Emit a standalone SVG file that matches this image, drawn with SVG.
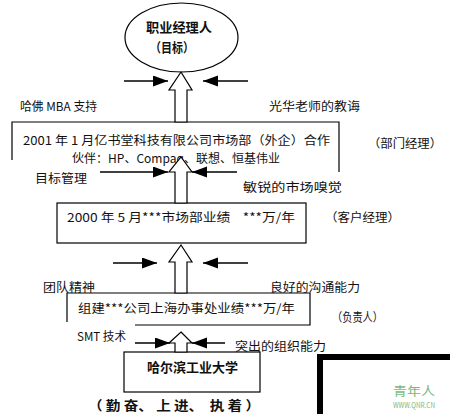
<svg xmlns="http://www.w3.org/2000/svg" width="450" height="414" viewBox="0 0 450 414">
<style>
text{font-family:"Noto Sans CJK SC","Liberation Sans",sans-serif;font-size:12px;fill:#111;white-space:pre}
.b{font-weight:bold;font-size:13px}
.box{fill:none;stroke:#000;stroke-width:1.2}
.hollow{fill:#fff;stroke:#000;stroke-width:1.2}
.push{stroke:#000;stroke-width:1.6;fill:none;marker-end:url(#ah)}
.wm{fill:#7cb87c}
</style>
<defs>
<marker id="ah" markerUnits="userSpaceOnUse" markerWidth="16" markerHeight="12" refX="15" refY="5.5" orient="auto">
<path d="M0,0 L15,5.5 L0,11 Z" fill="#000"/>
</marker>
</defs>

<g id="goal">
<ellipse cx="181.5" cy="37.5" rx="56.5" ry="34.5" fill="#fff" stroke="#000" stroke-width="1.2"/>
<text class="b" x="146" y="32" textLength="66" lengthAdjust="spacingAndGlyphs">职业经理人</text>
<text class="b" x="150" y="52" textLength="44" lengthAdjust="spacingAndGlyphs">（目标）</text>
</g>

<g id="box2001">
<path class="box" d="M12,160 V122 H339 V172"/>
<text x="23" y="145" textLength="307" lengthAdjust="spacingAndGlyphs">2001 年 1 月亿书堂科技有限公司市场部（外企）合作</text>
<text x="72" y="163" textLength="208" lengthAdjust="spacingAndGlyphs">伙伴：HP、Compaq、联想、恒基伟业</text>
</g>

<g id="box2000">
<rect class="box" x="57" y="203" width="249" height="40"/>
<text x="67" y="222" textLength="228" lengthAdjust="spacingAndGlyphs">2000 年 5 月***市场部业绩    ***万/年</text>
</g>

<g id="boxShanghai">
<path class="box" d="M67,322 V293 H310 V325 H135"/>
<text x="78" y="313" textLength="217" lengthAdjust="spacingAndGlyphs">组建***公司上海办事处业绩***万/年</text>
</g>

<g id="hit">
<rect class="box" x="124" y="352" width="136" height="40"/>
<text class="b" x="147" y="372" textLength="91" lengthAdjust="spacingAndGlyphs">哈尔滨工业大学</text>
</g>

<g id="labels">
<text x="20" y="111" textLength="77" lengthAdjust="spacingAndGlyphs">哈佛 MBA 支持</text>
<text x="269" y="111" textLength="91" lengthAdjust="spacingAndGlyphs">光华老师的教诲</text>
<text x="368" y="148" textLength="74" lengthAdjust="spacingAndGlyphs">（部门经理）</text>
<text x="35" y="183" textLength="52" lengthAdjust="spacingAndGlyphs">目标管理</text>
<text x="243" y="192" textLength="99" lengthAdjust="spacingAndGlyphs">敏锐的市场嗅觉</text>
<text x="325" y="222" textLength="75" lengthAdjust="spacingAndGlyphs">（客户经理）</text>
<text x="43" y="292" textLength="52" lengthAdjust="spacingAndGlyphs">团队精神</text>
<text x="270" y="292" textLength="90" lengthAdjust="spacingAndGlyphs">良好的沟通能力</text>
<text x="332" y="322" textLength="51" lengthAdjust="spacingAndGlyphs">（负责人）</text>
<text x="77" y="341" textLength="49" lengthAdjust="spacingAndGlyphs">SMT 技术</text>
<text x="235" y="351" textLength="91" lengthAdjust="spacingAndGlyphs">突出的组织能力</text>
<text class="b" x="88" y="410" textLength="172" lengthAdjust="spacingAndGlyphs">（ 勤 奋、 上 进、  执 着 ）</text>
</g>

<g id="connectors">
<polygon class="hollow" points="181,72 192,90 187,90 187,122 175,122 175,90 169,90"/>
<polygon class="hollow" points="181,157 192,172 187,172 187,203 175,203 175,172 169,172"/>
<polygon class="hollow" points="181,245 192,262 187,262 187,293 175,293 175,262 169,262"/>
<polygon class="hollow" points="181,332 192,343 187,343 187,352 175,352 175,343 169,343"/>
<line class="push" x1="124" y1="81" x2="168" y2="81"/>
<line class="push" x1="248" y1="81" x2="203" y2="81"/>
<line class="push" x1="100" y1="172" x2="168" y2="172"/>
<line class="push" x1="237" y1="172" x2="192" y2="172"/>
<line class="push" x1="113" y1="263" x2="157" y2="263"/>
<line class="push" x1="248" y1="263" x2="203" y2="263"/>
<line class="push" x1="135" y1="343" x2="170" y2="343"/>
<line class="push" x1="225" y1="343" x2="192" y2="343"/>
</g>

<g id="frame">
<path d="M320,414 V357 H450" fill="none" stroke="#000" stroke-width="6"/>
<text class="wm" x="393" y="396" font-size="14" textLength="42" lengthAdjust="spacingAndGlyphs">青年人</text>
<text class="wm" x="393" y="408" style="font-size:7px" textLength="42" lengthAdjust="spacingAndGlyphs">WWW.QNR.CN</text>
</g>
</svg>
